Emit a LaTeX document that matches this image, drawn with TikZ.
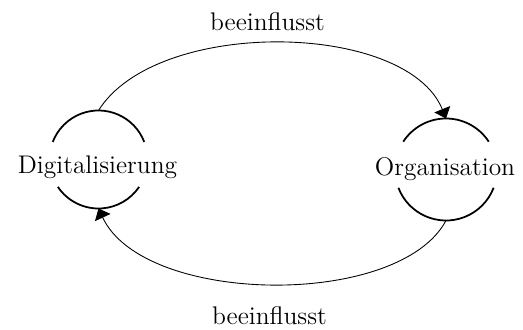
\documentclass[tikz,border=0pt]{standalone}
\usetikzlibrary{arrows.meta,calc}
\tikzset{
  begriff/.style={font=\fontsize{14.5}{17}\selectfont, inner sep=0pt},
  kreis/.style={line width=1pt},
  wirkung/.style={line width=0.5pt, -{Triangle[length=2mm,width=3.4mm]}},
}
\begin{document}
\begin{tikzpicture}
\useasboundingbox (0,0) rectangle (10.46,6.58);
\coordinate (digmitte) at (1.97,3.39);
\coordinate (orgmitte) at (8.92,3.19);
\node[begriff] (dig) at (1.95,3.23) {Digitalisierung};
\node[begriff] (org) at (8.90,3.20) {Organisation};
\draw[kreis] (digmitte) ++(21:0.98) arc (21:159:0.98);
\draw[kreis] (digmitte) ++(-146:0.98) arc (-146:-34:0.98);
\draw[kreis] (orgmitte) ++(33:1.02) arc (33:147:1.02);
\draw[kreis] (orgmitte) ++(-159:1.02) arc (-159:-21:1.02);
\coordinate (digoben) at ($(digmitte)+(0,0.98)$);
\coordinate (digunten) at ($(digmitte)+(0,-0.98)$);
\coordinate (orgoben) at ($(orgmitte)+(0,1.02)$);
\coordinate (orgunten) at ($(orgmitte)+(0,-1.02)$);
\draw[wirkung] (digoben) .. controls +(58:2.2) and +(112:2.1) .. (orgoben);
\draw[wirkung] (orgunten) .. controls +(-118:2.0) and +(-65:2.14) .. (digunten);
\node[begriff] (oben) at (5.35,6.14) {beeinflusst};
\node[begriff] (unten) at (5.39,0.27) {beeinflusst};
\end{tikzpicture}
\end{document}
